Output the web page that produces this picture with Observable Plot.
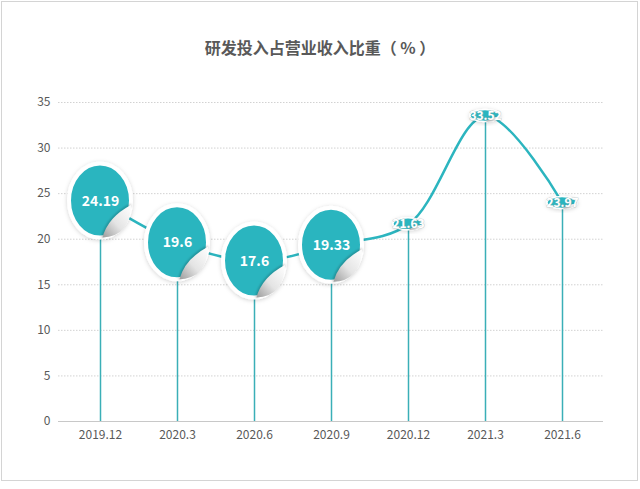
<!DOCTYPE html>
<html>
<head>
<meta charset="utf-8">
<script src="https://cdn.jsdelivr.net/npm/d3@7"></script>
<script src="https://cdn.jsdelivr.net/npm/@observablehq/plot@0.6"></script>
<style>
  html, body { margin: 0; padding: 0; background: #fff; }
  #wrap { position: relative; width: 640px; height: 489px; overflow: hidden; font-family: "Noto Sans CJK SC", "Noto Sans", sans-serif; }
  #frame { position: absolute; left: 1px; top: 1px; width: 637px; height: 480px; border: 1px solid #d4d4d4; box-sizing: border-box; }
  #title { position: absolute; left: 0; top: 36px; width: 640px; height: 22px; line-height: 22px; text-align: center; font-size: 16px; font-weight: bold; color: #595959; }
  #chart { position: absolute; left: 0; top: 80px; }
</style>
</head>
<body>
<div id="wrap">
  <div id="frame"></div>
  <div id="title">研发投入占营业收入比重（ % ）</div>
  <div id="chart"></div>
</div>
<script>
const categories = ["2019.12", "2020.3", "2020.6", "2020.9", "2020.12", "2021.3", "2021.6"];
const ratios = [24.19, 19.6, 17.6, 19.33, 21.63, 33.52, 23.97];
const yTicks = [0, 5, 10, 15, 20, 25, 30, 35];
const labels = ["24.19", "19.6", "17.6", "19.33", "21.63", "33.52", "23.97"];

const data = categories.map((c, i) => ({period: c, value: ratios[i], label: labels[i], idx: i}));
const teal = "#2cb5bf";

function balloons(index, scales, values) {
  const g = d3.create("svg:g");
  const defs = g.append("defs");
  const grad = defs.append("linearGradient").attr("id", "curlGrad")
    .attr("x1", "0").attr("y1", "1").attr("x2", "1").attr("y2", "0");
  grad.append("stop").attr("offset", "0").attr("stop-color", "#9c9c9c");
  grad.append("stop").attr("offset", "0.45").attr("stop-color", "#e4e4e4");
  grad.append("stop").attr("offset", "1").attr("stop-color", "#ffffff");
  const f = defs.append("filter").attr("id", "bShadow")
    .attr("x", "-30%").attr("y", "-30%").attr("width", "160%").attr("height", "160%");
  f.append("feDropShadow").attr("dx", 0).attr("dy", 1).attr("stdDeviation", 2)
    .attr("flood-color", "#000").attr("flood-opacity", 0.18);
  const fb = defs.append("filter").attr("id", "blurS");
  fb.append("feGaussianBlur").attr("stdDeviation", 1.2);
  for (const i of index) {
    const cx = values.x[i], cy = values.y[i];
    const big = i < 4;
    const rx = big ? 31 : 15, ry = big ? 37 : 6;
    const b = g.append("g").attr("transform", `translate(${cx},${cy})`);
    b.append("ellipse").attr("rx", rx).attr("ry", ry)
      .attr("fill", teal).attr("stroke", "#fff").attr("stroke-width", big ? 4 : 1.5)
      .attr("filter", "url(#bShadow)");
    const p = (u, v) => `${(u * rx).toFixed(2)},${(v * ry).toFixed(2)}`;
    b.append("path")
      .attr("d", `M${p(1.0, 0.12)}Q${p(0.25, 0.45)} ${p(0.08, 1.0)}`)
      .attr("fill", "none").attr("stroke", "rgba(0,0,0,0.22)")
      .attr("stroke-width", big ? 3 : 1).attr("filter", "url(#blurS)");
    b.append("path")
      .attr("d", `M${p(1.0, 0.12)}Q${p(0.97, 0.97)} ${p(0.08, 1.0)}Q${p(0.25, 0.45)} ${p(1.0, 0.12)}Z`)
      .attr("fill", "url(#curlGrad)");
  }
  return g.node();
}

const chart = Plot.plot({
  width: 640,
  height: 409,
  marginTop: 22,
  marginBottom: 68,
  marginLeft: 58,
  marginRight: 37,
  style: {fontFamily: "'Noto Sans CJK SC', 'Noto Sans', sans-serif", background: "transparent"},
  x: {type: "point", domain: categories, padding: 0.5, label: null},
  y: {domain: [0, 35], label: null},
  marks: [
    Plot.gridY(yTicks.filter(t => t > 0), {stroke: "#d2d2d2", strokeOpacity: 1, strokeDasharray: "1.5,1.5"}),
    Plot.ruleY([0], {stroke: "#c8c8c8", strokeWidth: 1}),
    Plot.axisY({ticks: yTicks, tickSize: 0, tickPadding: 8, fontSize: 12, color: "#595959", label: null}),
    Plot.axisX({tickSize: 0, tickPadding: 9, fontSize: 12, color: "#595959", label: null}),
    Plot.ruleX(data, {x: "period", y1: 0, y2: "value", stroke: "#3aafb7", strokeWidth: 1.5}),
    Plot.line(data, {x: "period", y: "value", curve: "catmull-rom", stroke: teal, strokeWidth: 2.5}),
    Plot.dot(data, {x: "period", y: "value", render: balloons}),
    Plot.text(data.filter(d => d.idx < 4), {x: "period", y: "value", text: "label", fill: "#fff", fontSize: 14, fontWeight: "bold"}),
    Plot.text(data.filter(d => d.idx >= 4), {x: "period", y: "value", text: "label", fill: "#fff", fontSize: 12, fontWeight: "bold", stroke: "#9aa", strokeOpacity: 0.45, strokeWidth: 1.2})
  ]
});
document.getElementById("chart").appendChild(chart);
</script>
</body>
</html>
